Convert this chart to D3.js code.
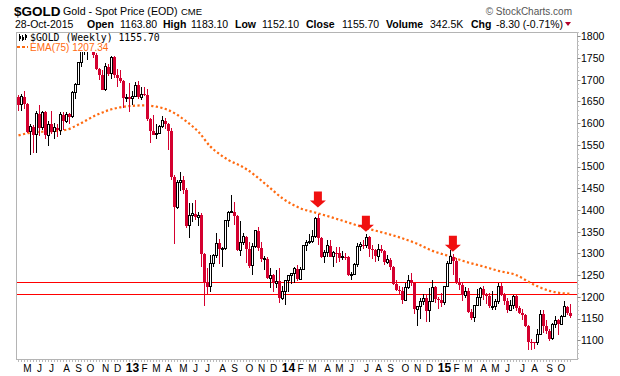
<!DOCTYPE html>
<html>
<head>
<meta charset="utf-8">
<script src="https://cdn.jsdelivr.net/npm/d3@7"></script>
<style>
  body { margin: 0; background: #fff; }
  svg { display: block; font-family: "Liberation Sans", Arial, sans-serif; }
</style>
</head>
<body>
<div id="chart"></div>
<script>
// weekly bars, first bar = week of Monday 16-Apr-2012
const firstMonday = [2012, 3, 16];

const opens = [
  1660,1642,1661,1644,1580,1592,1573,1622,1590,1625,
  1572,1598,1580,1590,1584,1619,1604,1621,1615,1671,
  1690,1740,1771,1772,1774,1780,1757,1724,1712,1677,
  1730,1714,1752,1712,1704,1697,1658,1660,1656,1662,
  1687,1660,1667,1666,1609,1581,1573,1577,1592,1606,
  1597,1581,1476,1406,1463,1469,1447,1364,1387,1392,
  1383,1388,1298,1234,1223,1277,1295,1323,1310,1312,
  1375,1395,1396,1387,1308,1326,1338,1310,1272,1315,
  1352,1313,1287,1288,1243,1250,1232,1236,1197,1213,
  1238,1249,1254,1265,1241,1263,1318,1325,1327,1339,
  1381,1336,1293,1303,1318,1293,1302,1300,1290,1293,
  1291,1250,1252,1274,1316,1320,1318,1337,1310,1307,
  1294,1310,1306,1280,1286,1268,1230,1216,1214,1192,
  1222,1238,1231,1171,1177,1190,1197,1168,1190,1222,
  1195,1194,1186,1223,1278,1292,1283,1234,1228,1204,
  1213,1166,1152,1181,1199,1219,1206,1203,1178,1179,
  1189,1225,1204,1190,1169,1180,1201,1174,1164,1158,
  1132,1096,1095,1094,1113,1160,1134,1121,1104,1137,
  1146,1137,1156,1177,1163.8
];
const highs = [
  1665,1668,1674,1646,1597,1596,1627,1641,1628,1628,
  1605,1627,1600,1597,1625,1625,1625,1624,1675,1692,
  1742,1777,1788,1788,1796,1788,1762,1727,1723,1739,
  1737,1755,1755,1724,1723,1699,1667,1693,1674,1694,
  1697,1684,1684,1678,1613,1620,1597,1595,1617,1612,
  1600,1590,1480,1469,1488,1478,1450,1416,1417,1424,
  1395,1393,1300,1267,1297,1298,1348,1333,1316,1378,
  1397,1434,1419,1388,1375,1346,1340,1327,1325,1355,
  1361,1326,1294,1292,1266,1252,1261,1266,1225,1239,
  1251,1255,1270,1274,1268,1320,1332,1345,1355,1385,
  1392,1338,1307,1331,1330,1305,1315,1315,1305,1300,
  1295,1258,1279,1325,1326,1332,1345,1340,1320,1311,
  1322,1320,1308,1296,1290,1272,1238,1226,1223,1232,
  1250,1255,1232,1178,1197,1207,1207,1221,1238,1225,
  1200,1210,1224,1282,1307,1299,1290,1243,1235,1223,
  1220,1173,1182,1219,1223,1224,1209,1208,1214,1196,
  1232,1232,1210,1197,1193,1205,1205,1180,1171,1161,
  1135,1104,1097,1126,1170,1169,1146,1125,1141,1157,
  1148,1159,1191,1179,1183.1
];
const lows = [
  1627,1628,1633,1578,1527,1532,1532,1570,1584,1563,
  1547,1575,1564,1568,1572,1584,1600,1597,1612,1656,
  1688,1730,1758,1746,1770,1750,1722,1700,1676,1673,
  1708,1702,1704,1683,1692,1635,1648,1626,1643,1660,
  1656,1654,1662,1606,1555,1572,1563,1575,1590,1587,
  1539,1470,1321,1403,1443,1437,1359,1336,1372,1378,
  1364,1268,1180,1207,1211,1270,1290,1276,1268,1309,
  1361,1394,1365,1306,1294,1320,1277,1267,1251,1312,
  1305,1281,1262,1242,1221,1211,1220,1185,1192,1181,
  1211,1230,1233,1237,1239,1262,1305,1321,1325,1336,
  1320,1290,1277,1293,1291,1268,1277,1281,1285,1284,
  1249,1240,1250,1270,1305,1310,1312,1292,1287,1281,
  1282,1302,1273,1276,1262,1228,1214,1207,1184,1190,
  1218,1225,1160,1132,1148,1181,1142,1142,1188,1187,
  1172,1177,1181,1222,1277,1250,1230,1216,1190,1197,
  1164,1147,1142,1180,1178,1192,1183,1175,1169,1170,
  1183,1201,1181,1162,1168,1172,1168,1161,1147,1131,
  1077,1078,1080,1090,1112,1118,1114,1099,1101,1129,
  1112,1136,1155,1159,1152.1
];
const closes = [
  1642,1661,1644,1580,1592,1573,1622,1590,1625,1572,
  1598,1580,1590,1584,1619,1604,1621,1615,1671,1690,
  1740,1771,1772,1774,1780,1757,1724,1712,1677,1730,
  1714,1752,1712,1704,1697,1658,1660,1656,1662,1687,
  1660,1667,1666,1609,1581,1573,1577,1592,1606,1597,
  1581,1476,1406,1463,1469,1447,1364,1387,1392,1383,
  1388,1298,1234,1223,1277,1295,1323,1310,1312,1375,
  1395,1396,1387,1308,1326,1338,1310,1272,1315,1352,
  1313,1287,1288,1243,1250,1232,1236,1197,1213,1238,
  1249,1254,1265,1241,1263,1318,1325,1327,1339,1381,
  1336,1293,1303,1318,1293,1302,1300,1290,1293,1291,
  1250,1252,1274,1316,1320,1318,1337,1310,1307,1294,
  1310,1306,1280,1286,1268,1230,1216,1214,1192,1222,
  1238,1231,1171,1177,1190,1197,1168,1190,1222,1195,
  1194,1186,1223,1278,1292,1283,1234,1228,1204,1213,
  1166,1152,1181,1199,1219,1206,1203,1178,1179,1189,
  1225,1204,1190,1169,1180,1201,1174,1164,1158,1132,
  1096,1095,1094,1113,1160,1134,1121,1104,1137,1146,
  1137,1156,1177,1163,1155.7
];

// EMA(75) at a few weeks (week number from first bar)
const emaWeeks  = [0, 5, 10, 16, 20, 26, 31, 38, 42, 46, 50, 56, 60, 64, 67, 70, 74, 76, 83, 88,
                   94, 99, 105, 110, 116, 121, 127, 133, 138, 144, 149, 155, 160, 166, 171, 177, 182, 184];
const emaValues = [1572, 1579, 1581, 1585, 1597, 1619, 1632, 1640, 1641, 1638, 1630, 1604, 1580, 1546, 1529, 1515, 1502, 1494, 1456, 1427,
                   1404, 1394, 1382, 1371, 1358, 1349, 1337, 1322, 1306, 1293, 1281, 1270, 1260, 1250, 1231, 1214, 1208, 1207.34];

// horizontal support lines and the three red arrows
const supportLevels = [1234, 1206];
const arrowWeeks = [99.8, 115.8, 144.8];
const arrowTips  = [1406, 1350, 1304];

const yTicks = d3.range(1100, 1801, 50);
const monthLetters = ["J","F","M","A","M","J","J","A","S","O","N","D"];

const width = 620, height = 376;
const plot = { left: 16, right: 577, top: 32, bottom: 359 };
const RED = "#d4002f";

const svg = d3.select("#chart").append("svg")
  .attr("width", width).attr("height", height);

svg.append("rect").attr("width", width).attr("height", height).attr("fill", "#fff");

const data = opens.map((o, i) => ({
  i,
  date: new Date(firstMonday[0], firstMonday[1], firstMonday[2] + 7 * i),
  open: o, high: highs[i], low: lows[i], close: closes[i],
  prev: i > 0 ? closes[i - 1] : o
}));

const x = d3.scaleLinear().domain([0, data.length - 1]).range([18.5, 570.5]);
const y = d3.scaleLinear().domain([1057, 1810]).range([plot.bottom, plot.top]);

// frame
svg.append("rect")
  .attr("x", plot.left + 0.5).attr("y", plot.top + 0.5)
  .attr("width", plot.right - plot.left).attr("height", plot.bottom - plot.top)
  .attr("fill", "none").attr("stroke", "#b4b4b4");

// right axis: minor ticks every 10, labels every 50
const minor = d3.range(1060, 1811, 10);
svg.append("g").selectAll("line").data(minor).join("line")
  .attr("x1", plot.right + 0.5).attr("x2", d => plot.right + (d % 50 === 0 ? 3.5 : 2))
  .attr("y1", d => Math.round(y(d)) + 0.5).attr("y2", d => Math.round(y(d)) + 0.5)
  .attr("stroke", d => d % 50 === 0 ? "#888" : "#c8c8c8");

svg.append("g").selectAll("text").data(yTicks).join("text")
  .attr("x", plot.right + 4).attr("y", d => y(d) + 3.8)
  .style("font-size", "10.5px").attr("fill", "#000")
  .text(d => d);

// bottom axis: a small tick per week, month letters, bold years
svg.append("g").selectAll("line").data(data).join("line")
  .attr("x1", d => x(d.i)).attr("x2", d => x(d.i))
  .attr("y1", plot.bottom + 1).attr("y2", plot.bottom + 3)
  .attr("stroke", "#bbb");

const monthStarts = data.filter((d, k) => k > 0 && d.date.getMonth() !== data[k - 1].date.getMonth());
svg.append("g").selectAll("text").data(monthStarts).join("text")
  .attr("x", d => x(d.i)).attr("y", 371.5)
  .attr("text-anchor", "middle")
  .style("font-size", d => d.date.getMonth() === 0 ? "12px" : "10px")
  .style("font-weight", d => d.date.getMonth() === 0 ? "bold" : "normal")
  .text(d => d.date.getMonth() === 0 ? String(d.date.getFullYear()).slice(2) : monthLetters[d.date.getMonth()]);

// support lines
svg.append("g").selectAll("line").data(supportLevels).join("line")
  .attr("x1", plot.left + 1).attr("x2", plot.right)
  .attr("y1", d => Math.round(y(d)) + 0.5).attr("y2", d => Math.round(y(d)) + 0.5)
  .attr("stroke", "#ff0000").attr("stroke-width", 1.2);

// EMA(75)
const emaPts = emaWeeks.map((w, k) => [w, emaValues[k]]);
svg.append("path")
  .attr("d", d3.line().x(d => x(d[0])).y(d => y(d[1])).curve(d3.curveMonotoneX)(emaPts))
  .attr("fill", "none").attr("stroke", "#ff6a10").attr("stroke-width", 2.2)
  .attr("stroke-dasharray", "2.2,2.4");

// candles: black when close >= prior close, red otherwise; hollow when close > open
const candles = svg.append("g").attr("shape-rendering", "crispEdges")
  .selectAll("g").data(data).join("g");

candles.append("line")
  .attr("x1", d => x(d.i)).attr("x2", d => x(d.i))
  .attr("y1", d => y(d.high)).attr("y2", d => y(d.low))
  .attr("stroke", d => d.close >= d.prev ? "#000" : RED);

candles.append("rect")
  .attr("x", d => d.close > d.open ? x(d.i) - 1 : x(d.i) - 1.5)
  .attr("width", d => d.close > d.open ? 2 : 3)
  .attr("y", d => y(Math.max(d.open, d.close)))
  .attr("height", d => Math.max(1, y(Math.min(d.open, d.close)) - y(Math.max(d.open, d.close))))
  .attr("fill", d => d.close > d.open ? "#fff" : (d.close >= d.prev ? "#000" : RED))
  .attr("stroke", d => d.close > d.open ? (d.close >= d.prev ? "#000" : RED) : "none");

// red arrows
const arrowPath = "M-4,-16 L4,-16 L4,-7 L8,-7 L0,0 L-8,-7 L-4,-7 Z";
svg.append("g").selectAll("path").data(arrowWeeks).join("path")
  .attr("transform", (w, k) => `translate(${x(w)},${y(arrowTips[k])})`)
  .attr("d", arrowPath)
  .attr("fill", "#f01010");

// legend boxes with white backing
const leg = svg.append("g");
leg.append("rect").attr("x", 17).attr("y", 33).attr("width", 140).attr("height", 9).attr("fill", "#fff");
leg.append("rect").attr("x", 17).attr("y", 42).attr("width", 90).attr("height", 10).attr("fill", "#fff");

// tiny candlestick icon
const icon = leg.append("g").attr("shape-rendering", "crispEdges");
[[19.5, 34, 41, 36, 39], [22.5, 35, 41, 36.5, 39.5], [25.5, 34, 40, 35, 38]].forEach(c => {
  icon.append("line").attr("x1", c[0]).attr("x2", c[0]).attr("y1", c[1]).attr("y2", c[2]).attr("stroke", "#000");
  icon.append("rect").attr("x", c[0] - 1).attr("y", c[3]).attr("width", 2).attr("height", c[4] - c[3]).attr("fill", "#000");
});

leg.append("text").attr("x", 30).attr("y", 40.5)
  .style("font-family", "'DejaVu Sans Mono', 'Liberation Mono', monospace")
  .style("font-size", "9.8px")
  .text("$GOLD (Weekly) 1155.70");

leg.append("line").attr("x1", 17).attr("x2", 28).attr("y1", 47).attr("y2", 47)
  .attr("stroke", "#ff6a10").attr("stroke-width", 2).attr("stroke-dasharray", "3,2");
leg.append("text").attr("x", 30).attr("y", 50.5)
  .style("font-size", "10px").attr("fill", "#ff6a10")
  .text("EMA(75) 1207.34");

// header
const head = svg.append("g");
head.append("text").attr("x", 14).attr("y", 15.5).style("font-size", "13.5px").style("font-weight", "bold").text("$GOLD");
head.append("text").attr("x", 63).attr("y", 15).style("font-size", "10.7px").text("Gold - Spot Price (EOD)");
head.append("text").attr("x", 181).attr("y", 15).style("font-size", "9.5px").text("CME");
head.append("text").attr("x", 572).attr("y", 15).attr("text-anchor", "end")
  .style("font-size", "10px").attr("fill", "#555").text("© StockCharts.com");

const line2 = [
  ["28-Oct-2015", 15, false], ["Open", 87, true], ["1163.80", 120, false],
  ["High", 163, true], ["1183.10", 191, false], ["Low", 235, true], ["1152.10", 262, false],
  ["Close", 306, true], ["1155.70", 342, false], ["Volume", 386, true], ["342.5K", 430, false],
  ["Chg", 471, true], ["-8.30 (-0.71%)", 496, false]
];
head.selectAll("text.l2").data(line2).join("text").attr("class", "l2")
  .attr("x", d => d[1]).attr("y", 27.5)
  .style("font-size", "10.5px")
  .style("font-weight", d => d[2] ? "bold" : "normal")
  .text(d => d[0]);
head.append("path").attr("d", "M565,22 L571,22 L568,26 Z").attr("fill", "#b0002a");
</script>
</body>
</html>
